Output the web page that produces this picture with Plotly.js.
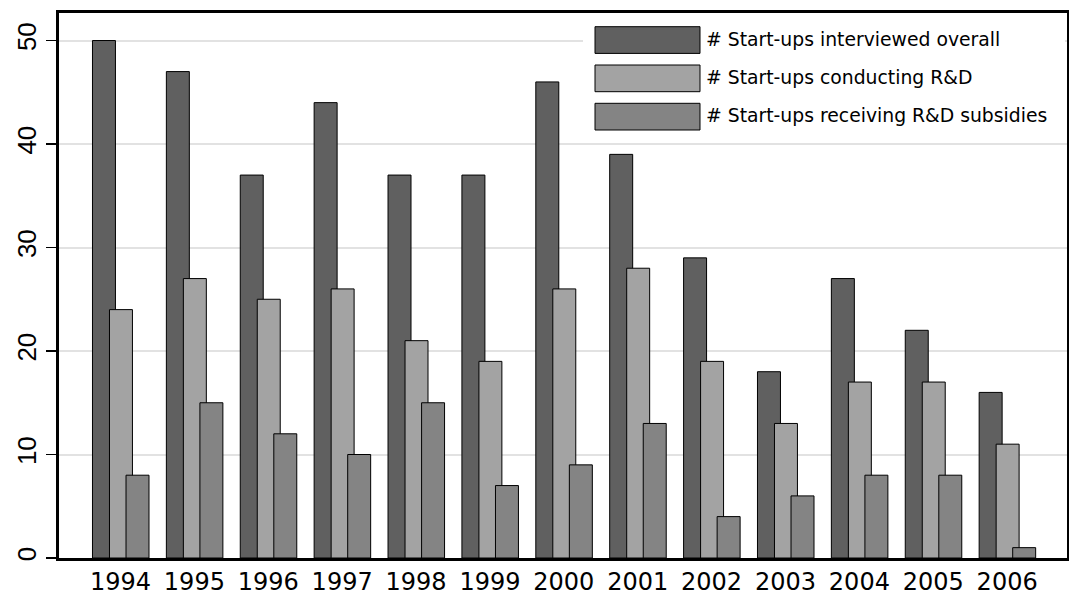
<!DOCTYPE html>
<html>
<head>
<meta charset="utf-8">
<script src="https://cdn.plot.ly/plotly-3.0.1.min.js"></script>
<style>html,body{margin:0;padding:0;background:#fff;}#chart{width:1069px;height:595px;}</style>
</head>
<body>
<div id="chart"></div>
<script>
const years = ["1994","1995","1996","1997","1998","1999","2000","2001","2002","2003","2004","2005","2006"];
const interviewed = [50,47,37,44,37,37,46,39,29,18,27,22,16];
const conductingRD = [24,27,25,26,21,19,26,28,19,13,17,17,11];
const receivingSubsidies = [8,15,12,10,15,7,9,13,4,6,8,8,1];
const seriesNames = ["# Start-ups interviewed overall","# Start-ups conducting R&D","# Start-ups receiving R&D subsidies"];
const yTicks = [0,10,20,30,40,50];

const W = 1069, H = 595;
const M = {l:59, r:2, t:13, b:37};
const PW = W - M.l - M.r, PH = H - M.t - M.b;
const px2x = p => (p - M.l) / PW;
const py2y = p => (H - M.b - p) / PH;

const colors = ["#606060","#a3a3a3","#848484"];
const offsets = [-0.379,-0.149,0.075];
const barW = 0.311;
const seriesVals = [interviewed, conductingRD, receivingSubsidies];

const traces = seriesVals.map((v,i) => ({
  type:'bar', x: years, y: v, name: seriesNames[i],
  offset: offsets[i], width: barW,
  marker:{color: colors[i], line:{color:'#000', width:1}},
  showlegend:false, hoverinfo:'x+y'
}));

const shapes = [{
  type:'rect', xref:'paper', yref:'paper', layer:'above',
  x0:px2x(583), x1:px2x(1065), y0:py2y(139), y1:py2y(14.5),
  fillcolor:'#fff', line:{width:0}
}];
const annotations = [];
const rowTops = [26.7, 65, 103.3];
seriesNames.forEach((n,i) => {
  const t = rowTops[i];
  shapes.push({type:'rect', xref:'paper', yref:'paper', layer:'above',
    x0:px2x(595), x1:px2x(700), y0:py2y(t+26.7), y1:py2y(t),
    fillcolor: colors[i], line:{color:'#000', width:1}});
  annotations.push({xref:'paper', yref:'paper', x:px2x(704), y:py2y(t+12.5),
    xanchor:'left', yanchor:'middle', showarrow:false, text:n,
    font:{family:'DejaVu Sans, sans-serif', size:18.8, color:'#000'}});
});

const layout = {
  width:W, height:H, margin:M, paper_bgcolor:'#fff', plot_bgcolor:'#fff',
  barmode:'overlay', showlegend:false,
  font:{family:'DejaVu Sans, sans-serif', color:'#000'},
  xaxis:{type:'category', range:[-0.832,12.81], showgrid:false, ticks:'',
    tickfont:{family:'DejaVu Sans, sans-serif', size:24, color:'#000'}, showline:true, linewidth:3, linecolor:'#000', mirror:true,
    zeroline:false, fixedrange:true},
  yaxis:{range:[0,52.66], tickvals:yTicks, ticktext:yTicks.map(String), tickangle:-90,
    ticks:'outside', ticklen:10, tickwidth:1.5, tickcolor:'#000',
    tickfont:{family:'Liberation Sans, Arial, sans-serif', size:26, color:'#000'}, showgrid:true, gridcolor:'#e2e2e2', gridwidth:2,
    showline:true, linewidth:3, linecolor:'#000', mirror:true, zeroline:false, fixedrange:true},
  shapes: shapes, annotations: annotations
};
Plotly.newPlot('chart', traces, layout, {displayModeBar:false, staticPlot:true});
</script>
</body>
</html>
